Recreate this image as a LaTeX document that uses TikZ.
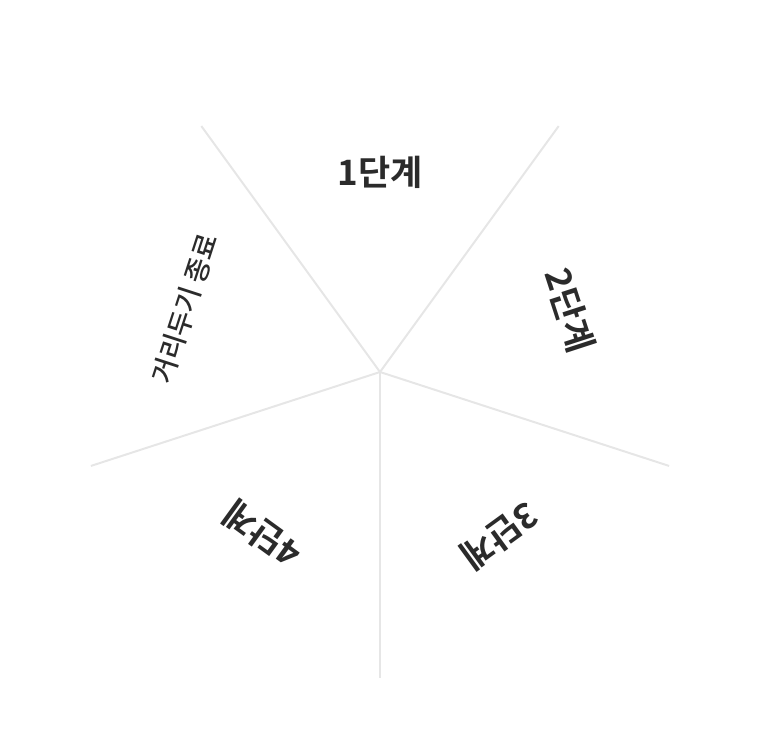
\documentclass[tikz,border=0pt]{standalone}
\usepackage{fontspec}
\newfontfamily\krfont{Noto Sans CJK KR Medium}
\newfontfamily\krbold{Noto Sans CJK KR Bold}
\usepackage{tikz}
\definecolor{spoke}{HTML}{E6E6E6}
\definecolor{ink}{HTML}{2B2B2B}

\begin{document}
\begin{tikzpicture}[x=1pt, y=1pt]
\tikzset{
  stage/.style={text=ink, font=\krbold\fontsize{35}{35}\selectfont, inner sep=0pt},
  endlabel/.style={text=ink, font=\krfont\fontsize{27}{27}\selectfont, inner sep=0pt},
  spokeline/.style={draw=spoke, line width=2pt}
}
\useasboundingbox (0, 0) rectangle (759, -749);

\coordinate (o) at (380, -372);
\coordinate (e1) at ([shift={(126:304)}]o);
\coordinate (e2) at ([shift={(54:304)}]o);
\coordinate (e3) at ([shift={(-18:304)}]o);
\coordinate (e4) at ([shift={(-90:306)}]o);
\coordinate (e5) at ([shift={(198:304)}]o);

\draw [spokeline] (o) -- (e1);
\draw [spokeline] (o) -- (e2);
\draw [spokeline] (o) -- (e3);
\draw [spokeline] (o) -- (e4);
\draw [spokeline] (o) -- (e5);

\node [stage] (s1) at ([shift={(90:200)}]o) {1단계};
\node [stage, rotate=-72] (s2) at ([shift={(18:200)}]o) {2단계};
\node [stage, rotate=-144] (s3) at ([shift={(-54:203)}]o) {3단계};
\node [stage, rotate=144] (s4) at ([shift={(-126:200)}]o) {4단계};
\node [endlabel, rotate=72] (end) at ([shift={(162:205)}]o) {거리두기 종료};

\end{tikzpicture}
\end{document}
